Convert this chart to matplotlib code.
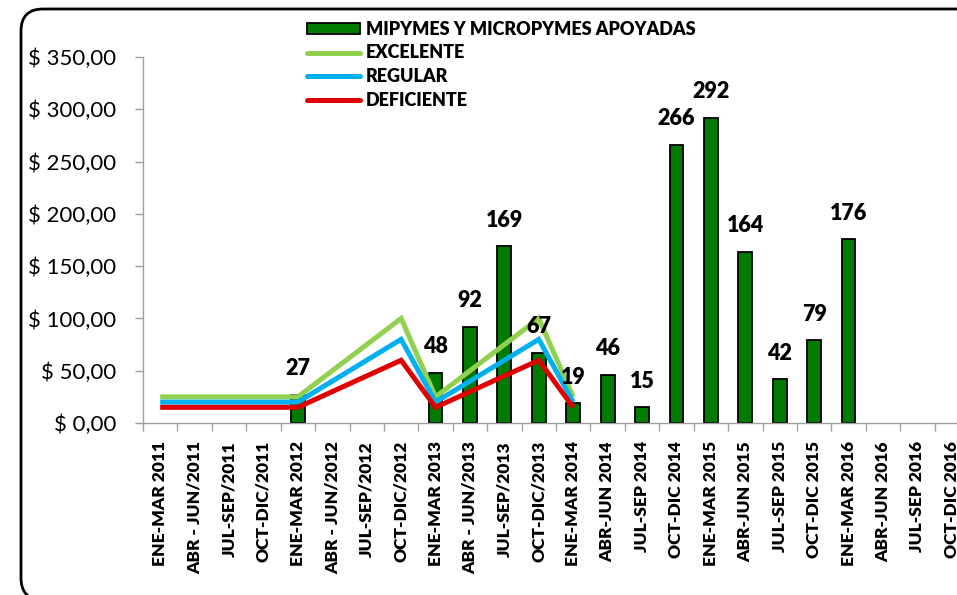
import matplotlib
matplotlib.use("Agg")
import matplotlib.pyplot as plt
import numpy as np
from matplotlib.patches import FancyBboxPatch, Patch
from matplotlib.lines import Line2D

plt.rcParams['font.family'] = ['Lato', 'DejaVu Sans']

periodos = ["ENE-MAR 2011", "ABR - JUN/2011", "JUL-SEP/2011", "OCT-DIC/2011",
            "ENE-MAR 2012", "ABR - JUN/2012", "JUL-SEP/2012", "OCT-DIC/2012",
            "ENE-MAR 2013", "ABR - JUN/2013", "JUL-SEP/2013", "OCT-DIC/2013",
            "ENE-MAR 2014", "ABR-JUN 2014", "JUL-SEP 2014", "OCT-DIC 2014",
            "ENE-MAR 2015", "ABR-JUN 2015", "JUL-SEP 2015", "OCT-DIC 2015",
            "ENE-MAR 2016", "ABR-JUN 2016", "JUL-SEP 2016", "OCT-DIC 2016"]

# bar values (None = empty period)
apoyadas = [None, None, None, None, 27, None, None, None,
            48, 92, 169, 67, 19, 46, 15, 266,
            292, 164, 42, 79, 176, None, None, None]

# reference lines, only for the first 13 periods
excelente = [25, 25, 25, 25, 25, 50, 75, 100, 25, 50, 75, 100, 25]
regular = [20, 20, 20, 20, 20, 40, 60, 80, 20, 40, 60, 80, 20]
deficiente = [15, 15, 15, 15, 15, 30, 45, 60, 15, 30, 45, 60, 15]

yticks = [0, 50, 100, 150, 200, 250, 300, 350]
ytick_labels = ["$ 0,00", "$ 50,00", "$ 100,00", "$ 150,00", "$ 200,00",
                "$ 250,00", "$ 300,00", "$ 350,00"]

fig = plt.figure(figsize=(9.57, 5.95), dpi=100)
ax = fig.add_axes([143 / 957, 172 / 595, 826 / 957, 366 / 595])

idx = [i for i, v in enumerate(apoyadas) if v is not None]
vals = [apoyadas[i] for i in idx]
bars = ax.bar(idx, vals, width=0.4, color='#007A00', edgecolor='black',
              linewidth=1.3, zorder=2)

x_lines = np.arange(len(excelente))
ax.plot(x_lines, excelente, color='#92D050', lw=3.6, zorder=3,
        solid_joinstyle='miter', solid_capstyle='butt')
ax.plot(x_lines, regular, color='#00B0F0', lw=3.6, zorder=3,
        solid_joinstyle='miter', solid_capstyle='butt')
ax.plot(x_lines, deficiente, color='#E00000', lw=3.6, zorder=3,
        solid_joinstyle='miter', solid_capstyle='butt')

for i, v in zip(idx, vals):
    ax.annotate(str(v), (i, v), xytext=(0, 14), textcoords='offset points',
                ha='center', va='baseline', fontsize=15.5, fontweight='heavy',
                zorder=5)

ax.set_xlim(-0.5, len(periodos) - 0.5)
ax.set_ylim(0, 350)
ax.set_yticks(yticks)
ax.set_yticklabels(ytick_labels, fontsize=16)
ax.set_xticks(np.arange(len(periodos)))
ax.set_xticklabels(periodos, rotation=90, fontsize=12.5, fontweight='heavy')
ax.set_xticks(np.arange(-0.5, len(periodos), 1), minor=True)
ax.tick_params(axis='x', which='major', length=0, pad=13)
ax.tick_params(axis='x', which='minor', length=6, color='#A0A0A0', width=1)
ax.tick_params(axis='y', length=6, color='#A0A0A0', width=1, pad=13)

for s in ['top', 'right']:
    ax.spines[s].set_visible(False)
for s in ['left', 'bottom']:
    ax.spines[s].set_color('#A0A0A0')
    ax.spines[s].set_linewidth(1)

handles = [Patch(facecolor='#007A00', edgecolor='black', linewidth=1.3),
           Line2D([], [], color='#92D050', lw=3.6, solid_capstyle='round'),
           Line2D([], [], color='#00B0F0', lw=3.6, solid_capstyle='round'),
           Line2D([], [], color='#E00000', lw=3.6, solid_capstyle='round')]
labels = ["MIPYMES Y MICROPYMES APOYADAS", "EXCELENTE", "REGULAR", "DEFICIENTE"]
leg = ax.legend(handles, labels, loc='upper left',
                bbox_to_anchor=(307 / 957, 1 - 21 / 595),
                bbox_transform=fig.transFigure, frameon=False,
                prop={'weight': 'heavy', 'size': 13}, handlelength=2.95,
                handleheight=0.55, handletextpad=0.3, labelspacing=0.36,
                borderpad=0, borderaxespad=0)

border = FancyBboxPatch((0.21, -0.05), 9.62, 5.91,
                        boxstyle="round,pad=0,rounding_size=0.22",
                        transform=fig.dpi_scale_trans, facecolor='none',
                        edgecolor='black', linewidth=2, clip_on=False)
fig.patches.append(border)

fig.savefig("out.png", dpi=100)
